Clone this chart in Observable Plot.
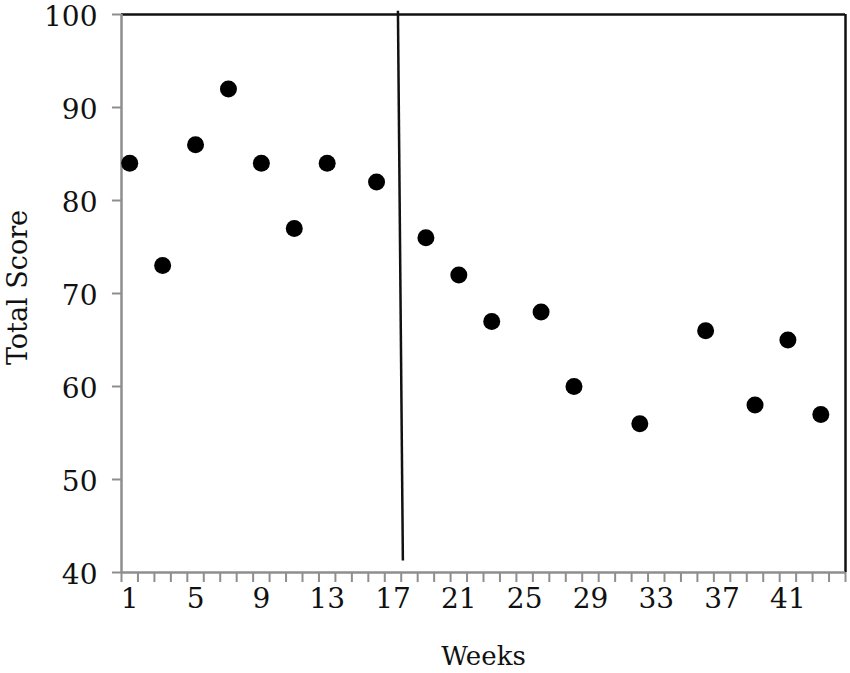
<!DOCTYPE html>
<html>
<head>
<meta charset="utf-8">
<script src="https://cdn.jsdelivr.net/npm/d3@7"></script>
<script src="https://cdn.jsdelivr.net/npm/@observablehq/plot@0.6"></script>
<style>
  html, body { margin: 0; padding: 0; background: #fff; }
</style>
</head>
<body>
<div id="chart"></div>
<script>
// Data
const weeks  = [1, 3, 5, 7, 9, 11, 13, 16, 19, 21, 23, 26, 28, 32, 36, 39, 41, 43];
const scores = [84, 73, 86, 92, 84, 77, 84, 82, 76, 72, 67, 68, 60, 56, 66, 58, 65, 57];

// Category bands (one per week, 1..44); tick marks sit between weeks
const weekCount = 44;
const xTickMarks = d3.range(0.5, weekCount + 1, 1);
const xTickLabels = [1, 5, 9, 13, 17, 21, 25, 29, 33, 37, 41];
const yTicks = [40, 50, 60, 70, 80, 90, 100];

// Phase-change line (slightly slanted in the original)
const phaseLine = [{x1: 17.3, y1: 100.4, x2: 17.6, y2: 41.3}];

const xLabel = "Weeks";
const yLabel = "Total Score";

const points = weeks.map((w, i) => ({week: w, score: scores[i]}));
const gray = "#8e8e8e";

const chart = Plot.plot({
  width: 850,
  height: 673,
  marginLeft: 121,
  marginRight: 5,
  marginTop: 14,
  marginBottom: 101,
  style: {fontFamily: "'DejaVu Serif', serif", fontSize: "27px", background: "#fff", color: "#000"},
  x: {domain: [0.5, weekCount + 0.5]},
  y: {domain: [40, 100]},
  marks: [
    // frame: black top and right, gray left and bottom axes
    Plot.ruleY([100], {stroke: "#111", strokeWidth: 2.5}),
    Plot.ruleX([weekCount + 0.5], {stroke: "#111", strokeWidth: 2.5}),
    Plot.ruleX([0.5], {stroke: gray, strokeWidth: 2.5}),
    Plot.ruleY([40], {stroke: gray, strokeWidth: 2.5}),
    // x tick marks (no text)
    Plot.axisX({ticks: xTickMarks, tickSize: 10, tickFormat: () => "", stroke: gray, strokeWidth: 2, label: null}),
    // x tick labels
    Plot.axisX({ticks: xTickLabels, tickSize: 0, tickPadding: 16, fill: "#111", fontSize: 28, label: null}),
    // y tick marks (no text)
    Plot.axisY({ticks: yTicks, tickSize: 9, tickFormat: () => "", stroke: gray, strokeWidth: 2, label: null}),
    // y tick labels
    Plot.axisY({ticks: yTicks, tickSize: 0, tickPadding: 24, fill: "#111", fontSize: 28, dy: 3, label: null}),
    // axis titles
    Plot.text([xLabel], {frameAnchor: "bottom", dy: 92, fill: "#111", fontSize: 26}),
    Plot.text([yLabel], {frameAnchor: "left", textAnchor: "middle", lineAnchor: "middle", dx: -103, dy: -6, rotate: -90, fill: "#111", fontSize: 27}),
    // phase line
    Plot.link(phaseLine, {x1: "x1", y1: "y1", x2: "x2", y2: "y2", stroke: "#111", strokeWidth: 2.5}),
    // points
    Plot.dot(points, {x: "week", y: "score", r: 8.5, fill: "#000", stroke: "none"})
  ]
});

document.getElementById("chart").appendChild(chart);
</script>
</body>
</html>
